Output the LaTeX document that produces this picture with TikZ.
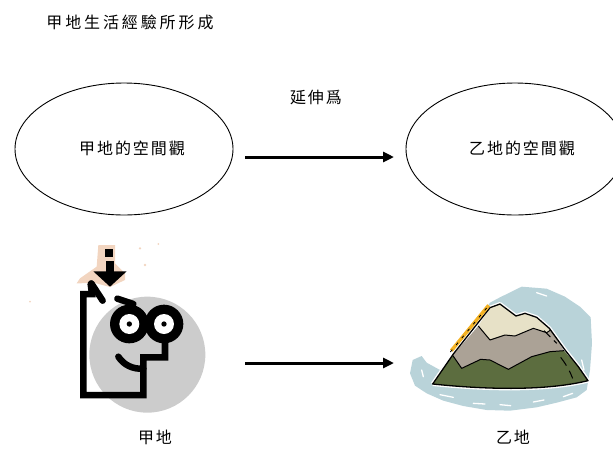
\documentclass[tikz,border=0pt]{standalone}
\usepackage{fontspec}
\newfontfamily\cjk[LetterSpace=12]{Noto Sans CJK TC}
\newfontfamily\cjkwide[LetterSpace=18]{Noto Sans CJK TC}
\usetikzlibrary{arrows.meta,shapes.geometric}

\definecolor{peach}{HTML}{F2D5C0}
\definecolor{facegray}{HTML}{CCCCCC}
\definecolor{water}{HTML}{B9D3D9}
\definecolor{snow}{HTML}{E7E1C7}
\definecolor{rock}{HTML}{ABA296}
\definecolor{grass}{HTML}{5C6D3F}
\definecolor{ridge}{HTML}{F4B223}

\tikzset{
  cjktext/.style={font=\cjk\fontsize{16}{16}\selectfont, inner sep=0pt},
  headtext/.style={font=\cjkwide\fontsize{16}{16}\selectfont, inner sep=0pt},
  bubble/.style={draw, ellipse, line width=0.9pt, minimum width=218pt, minimum height=132pt, inner sep=0pt},
  flow/.style={line width=3pt, -{Triangle[length=11pt,width=10pt]}},
  ink/.style={line width=6.5pt, line cap=round, line join=miter},
  outline/.style={draw=black, line width=1pt, line join=round},
}

\begin{document}
\begin{tikzpicture}[x=1pt,y=-1pt]
\useasboundingbox (0,0) rectangle (613,448);

% heading
\node[headtext] (title) at (130,22) {甲地生活經驗所形成};

% the two ideas and the link between them
\node[bubble] (ideaA) at (124,149) {};
\node[cjktext] (ideaAtext) at (132,148) {甲地的空間觀};
\node[bubble] (ideaB) at (515,149) {};
\node[cjktext] (ideaBtext) at (522,148) {乙地的空間觀};
\node[cjktext] (extend) at (316,97) {延伸爲};

\coordinate (upStart) at (245,157);
\coordinate (upEnd) at (394,157);
\draw[flow] (upStart) -- (upEnd);

\coordinate (lowStart) at (245,363);
\coordinate (lowEnd) at (394,363);
\draw[flow] (lowStart) -- (lowEnd);

\node[cjktext] (placeA) at (155,437) {甲地};
\node[cjktext] (placeB) at (513,437) {乙地};

% thinking head
\begin{scope}[shift={(30,220)}, scale=1/3]
  \fill[facegray] (352,404) circle (174);
  \fill[peach] (205,75) -- (255,75) -- (255,130) -- (285,160) -- (285,180)
       -- (240,201) -- (195,189) -- (140,190) -- (150,175) -- (200,140) -- cycle;
  \fill[peach] (330,85) circle (4) (385,72) circle (3) (345,135) circle (4) (0,245) circle (3);
  % falling arrow
  \fill[black] (226,86) rectangle (250,112);
  \fill[black] (228,124) rectangle (252,156);
  \fill[black] (190,154) -- (290,154) -- (240,200) -- cycle;
  % head contour
  \draw[ink] (218,242) -- (184,190);
  \draw[ink] (182,192) -- (186,222) -- (160,222) -- (160,525) -- (340,525)
       -- (340,412) -- (405,412) -- (405,362);
  % glasses
  \fill[black] (298,312) circle (58) (402,312) circle (58);
  \fill[white] (298,312) circle (30) (402,312) circle (30);
  \fill[black] (298,312) circle (8) (402,312) circle (8);
  % brow and smile
  \draw[ink] (262,236) -- (310,252);
  \draw[ink] (265,410) .. controls (282,436) and (310,448) .. (340,446);
\end{scope}

% mountain
\begin{scope}[shift={(390,260)}, scale=1/3]
  \fill[water] (68,300) -- (95,288) -- (110,308) -- (150,330) -- (190,282)
       -- (240,215) -- (300,128) -- (330,112) -- (395,80) -- (470,86)
       -- (525,110) -- (570,140) -- (602,172) -- (606,250) -- (600,330)
       -- (590,390) -- (560,412) -- (500,428) -- (440,442) -- (360,452)
       -- (290,450) -- (220,438) -- (160,422) -- (110,400) -- (75,377)
       -- (60,340) -- cycle;
  \draw[white, line width=1.3pt, line cap=round]
       (440,98) -- (470,108)  (150,404) -- (190,412)  (250,430) -- (285,432)
       (330,434) -- (362,437) (430,426) -- (462,420)  (520,410) -- (548,400)
       (575,300) -- (582,330) (95,330) -- (100,350);
  % base silhouette with a white halo
  \draw[white, line width=4pt, line join=round]
       (128,372) -- (190,282) -- (300,143) -- (330,132) -- (378,168) -- (405,160)
       -- (440,172) -- (478,205) -- (525,270) -- (565,320) -- (594,362)
       .. controls (500,385) and (350,395) .. (128,372);
  % layers
  \fill[grass] (128,372) -- (188,286) -- (215,325) -- (272,298) -- (300,300)
       -- (355,328) -- (425,290) -- (480,275) -- (522,272) -- (565,320)
       -- (594,362) .. controls (500,385) and (350,395) .. (128,372) -- cycle;
  \fill[rock] (188,286) -- (265,198) -- (300,240) -- (345,225) -- (375,228)
       -- (430,205) -- (470,218) -- (482,210) -- (522,272) -- (480,275)
       -- (425,290) -- (355,328) -- (300,300) -- (272,298) -- (215,325) -- cycle;
  \fill[snow] (265,198) -- (300,143) -- (330,132) -- (378,168) -- (405,160)
       -- (440,172) -- (482,210) -- (470,218) -- (430,205) -- (375,228)
       -- (345,225) -- (300,240) -- cycle;
  % layer edges
  \draw[outline] (188,286) -- (215,325) -- (272,298) -- (300,300) -- (355,328)
       -- (425,290) -- (480,275) -- (522,272);
  \draw[outline] (265,198) -- (300,240) -- (345,225) -- (375,228) -- (430,205)
       -- (470,218) -- (482,210);
  \draw[outline, line width=1.3pt]
       (128,372) -- (190,282) -- (300,143) -- (330,132) -- (378,168) -- (405,160)
       -- (440,172) -- (478,205) -- (525,270) -- (565,320) -- (594,362)
       .. controls (500,385) and (350,395) .. (128,372) -- cycle;
  % sunlit ridge on the left flank
  \draw[ridge, line width=3.5pt] (184,272) -- (296,136);
  \draw[black, line width=0.8pt, dash pattern=on 3pt off 6pt] (181,276) -- (294,139);
  % shading strokes on the right flank
  \draw[black, line width=1pt, dash pattern=on 9pt off 5pt]
       (462,212) -- (500,250);
  \draw[black, line width=1pt, dash pattern=on 10pt off 6pt]
       (512,292) .. controls (530,315) and (540,335) .. (548,355);
\end{scope}
\end{tikzpicture}
\end{document}
